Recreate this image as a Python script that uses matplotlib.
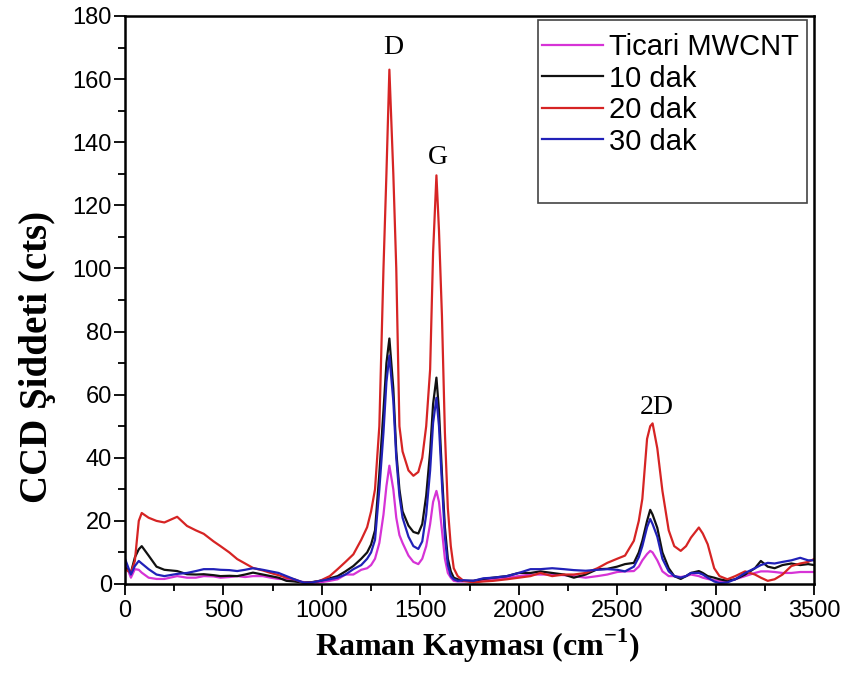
import matplotlib
matplotlib.use("Agg")
import matplotlib.pyplot as plt
from matplotlib.patches import Rectangle
from matplotlib.ticker import MultipleLocator

plt.rcParams["mathtext.fontset"] = "custom"
plt.rcParams["mathtext.rm"] = "Liberation Serif:bold"
plt.rcParams["mathtext.bf"] = "Liberation Serif:bold"

# Raman shift (cm-1), shared by all spectra
shift = [0, 30, 50, 70, 85, 120, 160, 200, 265, 315,
         360, 400, 450, 485, 530, 570, 610, 650, 700, 740,
         780, 820, 860, 910, 950, 990, 1040, 1080, 1120, 1160,
         1200, 1230, 1250, 1270, 1292, 1313, 1328, 1343, 1363, 1378,
         1394, 1410, 1440, 1465, 1490, 1510, 1530, 1550, 1565, 1582,
         1595, 1610, 1625, 1640, 1655, 1670, 1690, 1720, 1770, 1820,
         1870, 1940, 2000, 2060, 2110, 2170, 2230, 2280, 2340, 2400,
         2450, 2500, 2540, 2585, 2610, 2628, 2652, 2668, 2680, 2704,
         2730, 2762, 2790, 2823, 2850, 2875, 2915, 2935, 2960, 2993,
         3020, 3060, 3100, 3150, 3200, 3230, 3265, 3300, 3340, 3385,
         3430, 3470, 3500]

ticari = [6.8, 2, 4.7, 4.5, 3.6, 2, 1.6, 1.6, 2.5, 2,
          2, 2.5, 2.4, 2, 2.2, 2.5, 2.2, 2.5, 2.5, 2,
          1.6, 1.6, 1, 0.6, 0.4, 0.5, 1, 1.5, 3, 3,
          4.5, 5, 6, 8, 13, 22, 31, 37.5, 30, 21,
          15.5, 13, 9, 7, 6.3, 8, 12, 19, 26, 29.5,
          26, 17, 8, 3.5, 2, 1, 0.8, 0.8, 1, 1.2,
          1.5, 2, 2.5, 3, 3, 3, 2.8, 2.5, 2, 2.5,
          3, 3.8, 4, 4.1, 5.5, 7.5, 9.5, 10.5, 10, 7.5,
          4, 2.5, 2.5, 2.2, 2.5, 3, 2.5, 2, 1.6, 1.2,
          1, 1, 1.5, 2.5, 3.5, 4, 4, 3.8, 3.5, 3.5,
          3.8, 3.8, 3.8]

dak10 = [5.2, 3.6, 8.4, 11, 12, 9, 5.5, 4.5, 4.1, 3.1,
         3, 3.1, 2.8, 2.5, 2.6, 2.5, 3, 3.6, 3, 2.5,
         2, 1, 0.8, 0.4, 0.6, 1, 1.8, 2.5, 4, 5.7,
         8, 10, 12.5, 17, 35, 55, 70, 77.8, 62, 42,
         30, 23, 18.5, 16.5, 16, 19, 28, 42, 57, 65.4,
         55, 35, 18, 8, 4, 2, 1.5, 1, 1, 1.6,
         2, 2.5, 3.5, 3.5, 4, 3.5, 3, 2, 3, 4.7,
         4.8, 5.5, 6.3, 6.7, 10, 13.7, 20, 23.5, 22, 17.8,
         10, 5, 2.5, 1.6, 2.5, 3.5, 4.1, 3.5, 2.5, 2,
         1.5, 1, 1.5, 3, 5, 7.3, 5.5, 5, 6, 6.5,
         6, 6.3, 6]

dak20 = [4.7, 3.6, 7.3, 20, 22.5, 21, 20, 19.5, 21.3, 18.4,
         17, 15.9, 13.5, 12, 10, 7.9, 6.5, 5.1, 4.3, 3.5,
         2.8, 2, 1.5, 0.3, 0.5, 1, 2.5, 4.7, 7, 9.4,
         14, 18, 23, 30, 50, 100, 130, 163, 130, 100,
         50, 42, 36, 34.3, 35.5, 40, 50, 68, 105, 129.5,
         112, 85, 48, 24, 12, 5, 2.5, 1, 0.5, 0.8,
         1, 1.5, 2, 2.5, 3.5, 2.5, 3, 3, 3.5, 5,
         6.7, 8, 9, 13.7, 20, 27, 46, 50, 50.9, 43,
         29.5, 17, 12, 10.5, 12, 14.7, 17.9, 16, 12.6, 5,
         2.5, 1.5, 2.5, 4, 3, 2, 1, 1.5, 3, 5.7,
         6.5, 7, 7.9]

dak30 = [8, 3, 5.7, 7.3, 6.5, 4.7, 3, 2.5, 3.2, 3.5,
         4.1, 4.7, 4.7, 4.5, 4.4, 4.1, 4.5, 5, 4.5, 4,
         3.5, 2.5, 1.5, 0.4, 0.5, 1, 1.5, 2, 3, 4.7,
         6, 8, 10, 14, 30, 48, 64, 72.4, 58, 40,
         28, 21, 15, 12, 11.1, 13.5, 22, 36, 51, 59,
         50, 32, 15, 6, 2.5, 1.5, 1, 1.2, 1, 1.8,
         2, 2.5, 3.5, 4.7, 4.7, 5, 4.7, 4.4, 4.2, 4.5,
         4.7, 4.5, 4, 5.5, 8.5, 12, 18, 20.6, 19, 15,
         8, 4, 2.5, 2, 2.5, 3.5, 3.5, 3, 2, 0.8,
         0.3, 0.5, 1.5, 3.5, 5, 6, 6.7, 6.5, 7, 7.5,
         8.3, 7.5, 7.5]

series_labels = ["Ticari MWCNT", "10 dak", "20 dak", "30 dak"]
series_colors = ["#d633d6", "#111111", "#d62424", "#2121b8"]

# peak names and where they sit
peak_names = ["D", "G", "2D"]
peak_pos = [(1363, 170), (1590, 135), (2700, 56)]

fig = plt.figure(figsize=(8.45, 6.93), dpi=100)
ax = fig.add_axes([125 / 845, 1 - 584 / 693, 689 / 845, 568 / 693])

for ys, lab, col in zip([ticari, dak10, dak20, dak30], series_labels, series_colors):
    ax.plot(shift, ys, color=col, lw=1.6, label=lab)

for name, (px, py) in zip(peak_names, peak_pos):
    ax.text(px, py, name, ha="center", va="center", fontsize=20,
            family="Liberation Serif")

ax.set_xlim(0, 3500)
ax.set_ylim(0, 180)
ax.xaxis.set_major_locator(MultipleLocator(500))
ax.xaxis.set_minor_locator(MultipleLocator(250))
ax.yaxis.set_major_locator(MultipleLocator(20))
ax.yaxis.set_minor_locator(MultipleLocator(10))
ax.tick_params(which="both", direction="out", top=False, right=False,
               width=1.3)
ax.tick_params(which="major", length=8, labelsize=17)
ax.tick_params(which="minor", length=5)
ax.tick_params(axis="y", which="major", pad=1.5)
for lbl in ax.get_xticklabels() + ax.get_yticklabels():
    lbl.set_family("Liberation Sans")
for sp in ax.spines.values():
    sp.set_linewidth(1.8)

ax.set_xlabel("Raman Kayması (cm$^{-1}$)", fontsize=23, fontweight="bold",
              family="Liberation Serif")
ax.set_ylabel("CCD Şiddeti (cts)", fontsize=28, fontweight="bold",
              family="Liberation Serif")
ax.xaxis.set_label_coords(0.511, -0.076)
ax.yaxis.set_label_coords(-0.10, 0.40)

ax.legend(loc="upper left", bbox_to_anchor=(0.582, 0.998), frameon=False,
          prop={"family": "Liberation Sans", "size": 21},
          handlelength=2.1, handletextpad=0.18, labelspacing=0.12,
          borderpad=0.05)
ax.add_patch(Rectangle((0.599, 0.671), 0.391, 0.322, transform=ax.transAxes,
                       fill=False, edgecolor="#444444", lw=1.2, zorder=5))

fig.savefig("out.png", dpi=100)
